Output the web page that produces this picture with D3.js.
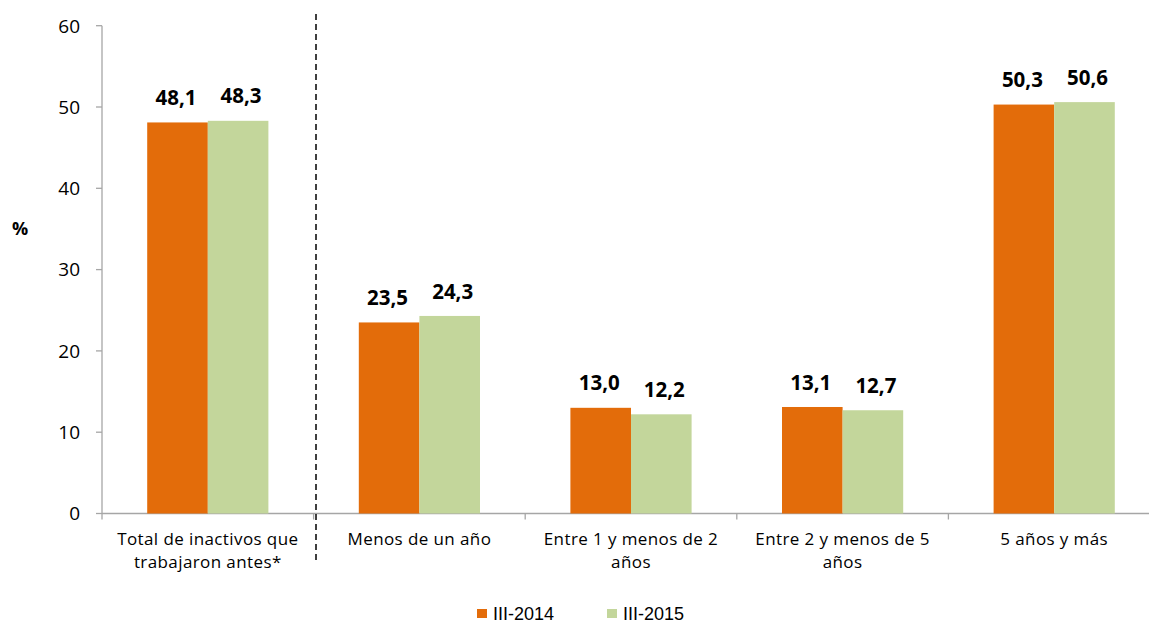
<!DOCTYPE html>
<html>
<head>
<meta charset="utf-8">
<script src="https://cdn.jsdelivr.net/npm/d3@7"></script>
<style>
  body { margin: 0; background: #fff; }
  svg { display: block; }
</style>
</head>
<body>
<svg id="chart" width="1149" height="623"></svg>
<script>
// categories and series values
var categories = [
  ['Total de inactivos que', 'trabajaron antes*'],
  ['Menos de un año'],
  ['Entre 1 y menos de 2', 'años'],
  ['Entre 2 y menos de 5', 'años'],
  ['5 años y más']
];
var series = ['III-2014', 'III-2015'];
var values2014 = [48.1, 23.5, 13.0, 13.1, 50.3];
var values2015 = [48.3, 24.3, 12.2, 12.7, 50.6];
var yTicks = [0, 10, 20, 30, 40, 50, 60];
var colors = ['#E36C0A', '#C3D69B'];

var svg = d3.select('#chart');
var plotLeft = 102, plotRight = 1160, plotTop = 25.7, plotBottom = 513.5;

var x = d3.scaleBand().domain(d3.range(categories.length)).range([plotLeft, plotRight]);
var xInner = d3.scaleBand().domain(series).range([0, x.bandwidth()]).paddingOuter(0.746).paddingInner(0);
var y = d3.scaleLinear().domain([0, 60]).range([plotBottom, plotTop]);

var axisColor = '#a6a6a6';
var font = "'Open Sans', 'Noto Sans', sans-serif";

// y axis
svg.append('line')
  .attr('x1', plotLeft).attr('x2', plotLeft).attr('y1', y(60)).attr('y2', y(0))
  .attr('stroke', axisColor).attr('stroke-width', 1.3);
svg.selectAll('.ytick').data(yTicks).enter().append('line')
  .attr('x1', plotLeft - 6).attr('x2', plotLeft).attr('y1', d => y(d)).attr('y2', d => y(d))
  .attr('stroke', axisColor).attr('stroke-width', 1.3);
svg.selectAll('.ylab').data(yTicks).enter().append('text')
  .text(d => d)
  .attr('x', 80).attr('y', d => y(d) + 6.8)
  .attr('text-anchor', 'end')
  .attr('font-family', font).attr('font-size', '19px').attr('fill', '#000');

svg.append('text').text('%')
  .attr('x', 20).attr('y', 235)
  .attr('text-anchor', 'middle')
  .attr('font-family', font).attr('font-weight', 'bold').attr('font-size', '18px');

// x axis
svg.append('line')
  .attr('x1', plotLeft).attr('x2', plotRight).attr('y1', y(0)).attr('y2', y(0))
  .attr('stroke', axisColor).attr('stroke-width', 1.3);
svg.selectAll('.xtick').data(d3.range(categories.length + 1)).enter().append('line')
  .attr('x1', d => plotLeft + d * x.step()).attr('x2', d => plotLeft + d * x.step())
  .attr('y1', y(0)).attr('y2', y(0) + 6)
  .attr('stroke', axisColor).attr('stroke-width', 1.3);

// bars
var groups = svg.selectAll('.grp').data(categories).enter().append('g')
  .attr('transform', (d, i) => 'translate(' + x(i) + ',0)');

[values2014, values2015].forEach(function(vals, s) {
  groups.append('rect')
    .attr('x', xInner(series[s]))
    .attr('width', xInner.bandwidth())
    .attr('y', (d, i) => y(vals[i]))
    .attr('height', (d, i) => y(0) - y(vals[i]))
    .attr('fill', colors[s]);
  groups.append('text')
    .text((d, i) => d3.format('.1f')(vals[i]).replace('.', ','))
    .attr('x', xInner(series[s]) + xInner.bandwidth() / 2 + (s == 0 ? -1.5 : 3))
    .attr('y', (d, i) => y(vals[i]) - 17.4)
    .attr('text-anchor', 'middle')
    .attr('font-family', font).attr('font-weight', 'bold').attr('font-size', '20.5px');
});

// category labels
groups.each(function(lines) {
  var g = d3.select(this);
  lines.forEach(function(t, k) {
    g.append('text').text(t)
      .attr('x', x.bandwidth() / 2).attr('y', 545 + k * 23.3)
      .attr('text-anchor', 'middle')
      .attr('letter-spacing', '0.4px')
      .attr('font-family', font).attr('font-size', '17px');
  });
});

// dashed separator
svg.append('line')
  .attr('x1', 316).attr('x2', 316).attr('y1', 14).attr('y2', 563)
  .attr('stroke', '#000').attr('stroke-width', 1.5).attr('stroke-dasharray', '6,4');

// legend
var legX = [477, 607];
series.forEach(function(s, i) {
  svg.append('rect')
    .attr('x', legX[i]).attr('y', 609).attr('width', 10).attr('height', 9)
    .attr('fill', colors[i]);
  svg.append('text').text(s)
    .attr('x', legX[i] + 16).attr('y', 619.5)
    .attr('font-family', "'Liberation Sans', Arial, sans-serif").attr('font-size', '18px');
});
</script>
</body>
</html>
